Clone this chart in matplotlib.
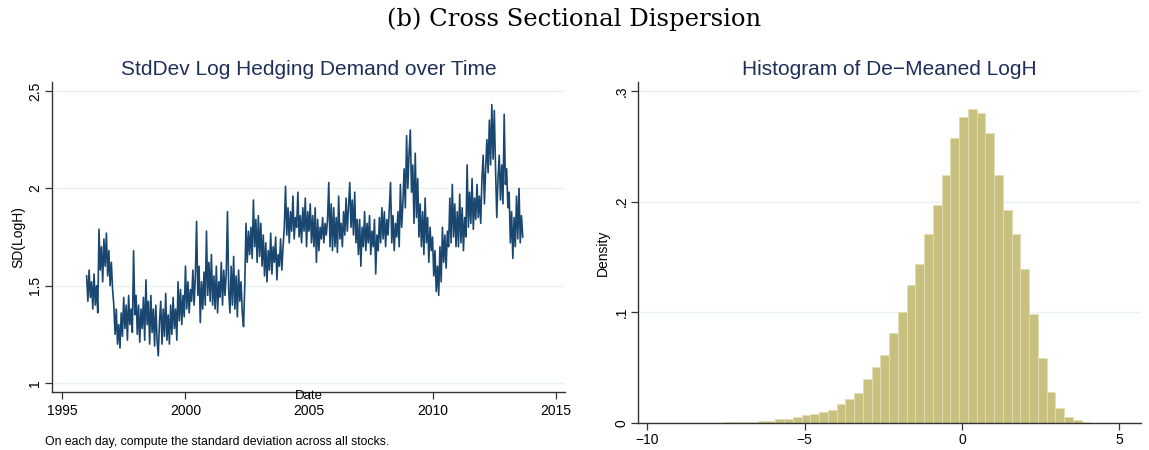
import numpy as np
import matplotlib
matplotlib.use("Agg")
import matplotlib.pyplot as plt

# Std dev of log hedging demand, every ~0.05 year from 1996.0
sd_logh = [
    1.55, 1.42, 1.58, 1.44, 1.52, 1.38, 1.56, 1.40, 1.50, 1.36,
    1.79, 1.58, 1.70, 1.52, 1.74, 1.60, 1.77, 1.55, 1.68, 1.50,  # 1996
    1.62, 1.48, 1.40, 1.25, 1.38, 1.20, 1.30, 1.18, 1.36, 1.24,
    1.44, 1.28, 1.40, 1.22, 1.45, 1.30, 1.38, 1.26, 1.68, 1.35,  # 1997
    1.45, 1.25, 1.40, 1.21, 1.38, 1.28, 1.44, 1.22, 1.53, 1.30,
    1.42, 1.20, 1.45, 1.26, 1.38, 1.19, 1.40, 1.22, 1.14, 1.32,  # 1998
    1.42, 1.20, 1.38, 1.24, 1.46, 1.22, 1.35, 1.20, 1.40, 1.25,
    1.44, 1.28, 1.38, 1.22, 1.52, 1.32, 1.48, 1.30, 1.45, 1.34,  # 1999
    1.60, 1.38, 1.52, 1.36, 1.48, 1.42, 1.58, 1.40, 1.55, 1.83,
    1.45, 1.60, 1.31, 1.52, 1.38, 1.57, 1.40, 1.78, 1.45, 1.62,  # 2000
    1.42, 1.66, 1.40, 1.55, 1.38, 1.60, 1.36, 1.52, 1.44, 1.62,
    1.40, 1.58, 1.45, 1.56, 1.88, 1.48, 1.36, 1.60, 1.40, 1.65,  # 2001
    1.38, 1.55, 1.34, 1.58, 1.42, 1.52, 1.36, 1.29, 1.50, 1.82,
    1.62, 1.78, 1.66, 1.80, 1.64, 1.94, 1.70, 1.84, 1.62, 1.86,  # 2002
    1.65, 1.82, 1.60, 1.76, 1.55, 1.72, 1.52, 1.68, 1.58, 1.77,
    1.56, 1.70, 1.62, 1.75, 1.53, 1.66, 1.60, 1.74, 1.58, 1.70,  # 2003
    1.80, 2.01, 1.76, 1.90, 1.72, 1.88, 1.78, 1.96, 1.74, 1.85,
    1.80, 1.98, 1.75, 1.86, 1.72, 1.90, 1.78, 1.95, 1.70, 1.88,  # 2004
    1.78, 1.92, 1.72, 1.86, 1.70, 1.90, 1.62, 1.84, 1.68, 1.80,
    1.74, 1.85, 1.72, 1.82, 1.76, 1.84, 2.03, 1.70, 1.92, 1.68,  # 2005
    1.90, 1.70, 1.85, 1.67, 1.96, 1.74, 1.82, 1.70, 1.88, 1.76,
    1.95, 1.78, 1.90, 2.03, 1.80, 1.94, 1.76, 1.98, 1.72, 1.84,  # 2006
    1.66, 1.84, 1.60, 1.80, 1.70, 1.88, 1.68, 1.82, 1.72, 1.86,
    1.66, 1.78, 1.70, 1.84, 1.56, 1.76, 1.68, 1.85, 1.72, 1.90,  # 2007
    1.74, 1.88, 1.70, 1.84, 1.76, 1.90, 2.03, 1.72, 1.86, 1.68,
    1.82, 1.75, 1.88, 1.70, 2.02, 1.80, 1.92, 2.10, 1.90, 2.27,  # 2008
    2.00, 2.18, 2.30, 1.98, 2.12, 1.82, 2.18, 1.85, 2.05, 1.75,
    1.92, 1.70, 1.88, 1.66, 1.95, 1.72, 1.85, 1.62, 1.80, 1.68,  # 2009
    1.75, 1.55, 1.68, 1.47, 1.60, 1.45, 1.70, 1.52, 1.80, 1.62,
    1.76, 1.59, 1.78, 1.70, 1.95, 1.72, 2.02, 1.75, 1.92, 1.70,  # 2010
    1.88, 1.70, 1.97, 1.72, 1.90, 1.68, 1.85, 1.75, 2.12, 1.80,
    1.98, 1.82, 2.05, 1.79, 1.95, 1.84, 2.02, 1.85, 1.96, 1.82,  # 2011
    2.05, 2.17, 1.92, 2.10, 2.25, 2.08, 2.35, 2.12, 2.43, 2.15,
    2.40, 2.10, 1.85, 2.05, 2.17, 1.94, 2.12, 1.92, 2.38, 2.02,  # 2012
    2.10, 1.90, 1.98, 1.72, 1.88, 1.64, 1.85, 1.70, 1.96, 1.74,
    2.00, 1.72, 1.86, 1.75,                                      # 2013
]
start_year = 1996.0
step_year = 0.05
dates = start_year + step_year * np.arange(len(sd_logh))

# Histogram of de-meaned LogH (density per bin)
bin_start = -9.815
bin_width = 0.278
hist_density = [
    0.0001, 0.0001, 0.0001, 0.0001, 0.0002, 0.0002, 0.0002,
    0.0003, 0.0005, 0.0006, 0.0006, 0.0009, 0.0015, 0.0021, 0.0033, 0.0036, 0.0051,
    0.0072, 0.0081, 0.0099, 0.0117, 0.0171, 0.0216, 0.0267, 0.0399, 0.0502, 0.061,
    0.0814, 0.100, 0.125, 0.144, 0.171, 0.197, 0.224, 0.257,
    0.276, 0.284, 0.280, 0.262, 0.224, 0.192, 0.171, 0.139, 0.098, 0.0589,
    0.0279, 0.0132, 0.0057, 0.0027, 0.0009, 0.0003, 0.0001, 0.0001, 0.0001, 0.0001,
]
bin_left = bin_start + bin_width * np.arange(len(hist_density))

left_yticks = [1, 1.5, 2, 2.5]
left_ylabels = ["1", "1.5", "2", "2.5"]
left_xticks = [1995, 2000, 2005, 2010, 2015]
right_yticks = [0, 0.1, 0.2, 0.3]
right_ylabels = ["0", ".1", ".2", ".3"]
right_xticks = [-10, -5, 0, 5]
right_xlabels = ["\u221210", "\u22125", "0", "5"]

plt.rcParams['font.family'] = ['Liberation Sans', 'DejaVu Sans']
navy = "#1a476f"
title_col = "#1e2f5a"
grid_col = "#eaf1f3"
axis_col = "#333333"

fig = plt.figure(figsize=(11.49, 4.5), dpi=100)
fig.text(0.5, 0.958, "(b) Cross Sectional Dispersion", ha="center", va="center",
         fontsize=17.5, family="DejaVu Serif")

# left panel
ax1 = fig.add_axes([0.0453, 0.1289, 0.4464, 0.6889])
ax1.plot(dates, sd_logh, color=navy, lw=1.2)
ax1.set_xlim(1994.6, 2015.36)
ax1.set_ylim(0.954, 2.546)
ax1.set_yticks(left_yticks)
ax1.set_yticklabels(left_ylabels, rotation=90, va="center")
ax1.set_xticks(left_xticks)
ax1.set_xticklabels([str(t) for t in left_xticks])
ax1.set_ylabel("SD(LogH)", fontsize=10, labelpad=2)
ax1.text(0.5, -0.014, "Date", transform=ax1.transAxes, ha="center", va="center", fontsize=9.5)
ax1.set_title("StdDev Log Hedging Demand over Time", color=title_col, fontsize=15, pad=5)

# right panel
ax2 = fig.add_axes([0.5553, 0.06, 0.4377, 0.7578])
ax2.bar(bin_left, hist_density, width=bin_width, align="edge",
        color="#c8c07e", edgecolor="#e2ddb4", linewidth=0.6, zorder=2)
ax2.set_xlim(-10.29, 5.69)
ax2.set_ylim(0, 0.308)
ax2.set_yticks(right_yticks)
ax2.set_yticklabels(right_ylabels, rotation=90, va="center")
ax2.set_xticks(right_xticks)
ax2.set_xticklabels(right_xlabels)
ax2.set_ylabel("Density", fontsize=10, labelpad=3)
ax2.set_title("Histogram of De\u2212Meaned LogH", color=title_col, fontsize=15, pad=5)

for ax in (ax1, ax2):
    for s in ("top", "right"):
        ax.spines[s].set_visible(False)
    for s in ("left", "bottom"):
        ax.spines[s].set_color(axis_col)
        ax.spines[s].set_linewidth(1.0)
    ax.yaxis.grid(True, color=grid_col, lw=1.0)
    ax.set_axisbelow(True)
    ax.tick_params(axis="both", direction="out", length=5, width=0.9,
                   color=axis_col, labelsize=10, pad=2)
ax1.tick_params(axis="x", pad=4)

fig.text(0.039, 0.018, "On each day, compute the standard deviation across all stocks.",
         fontsize=8.8, ha="left", va="center")

fig.savefig("out.png", dpi=100)
